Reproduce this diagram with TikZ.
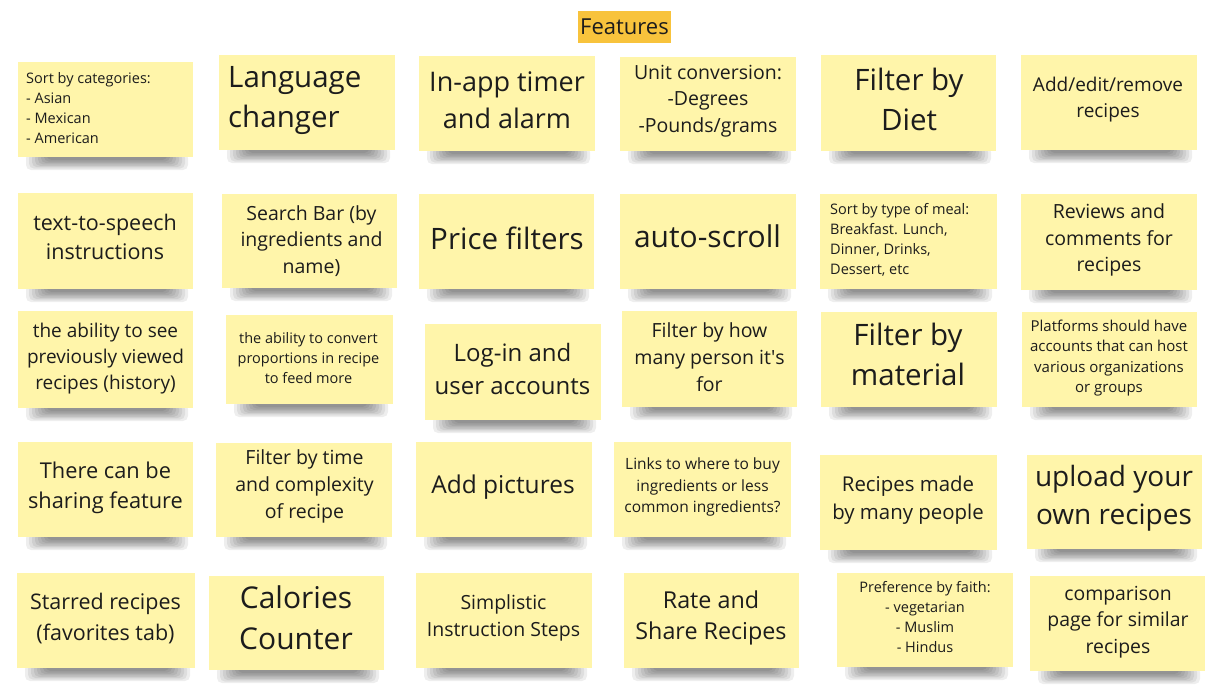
\documentclass[tikz,border=0pt]{standalone}
\usepackage{fontspec}
\setmainfont{Open Sans}
\usetikzlibrary{fit}

\definecolor{stickyyellow}{HTML}{FFF5AA}
\definecolor{titleorange}{HTML}{F8C33C}
\definecolor{inkdark}{HTML}{1C1C1C}

\tikzset{
  stickybox/.style={fill=stickyyellow, draw=none, inner sep=0pt},
  shadowlayer/.style={fill=black, opacity=0.065, rounded corners=5pt},
  txt/.style={text=inkdark, align=center, inner sep=0pt},
  txtleft/.style={text=inkdark, align=left, inner sep=0pt, anchor=west},
  fsz/.style 2 args={font=\fontsize{#1}{#2}\selectfont},
  titlebox/.style={fill=titleorange, text=inkdark, inner sep=0pt,
    minimum width=93pt, minimum height=32pt, font=\fontsize{22}{28}\selectfont},
}

% sticky note: name, left, top, right, bottom (pixel-like units, y downwards)
\newcommand\sticky[5]{%
  \foreach \k in {0,...,7}{%
    \fill[shadowlayer] (#2+8+3*\k, #5-4) rectangle (#4-5-3*\k, #5+13-1.4*\k);}
  \node[stickybox, fit={(#2,#3) (#4,#5)}] (#1) {};
}

\begin{document}
\begin{tikzpicture}[x=1pt, y=-1pt]
\useasboundingbox (0,0) rectangle (1223,689);

\node[titlebox] (title) at (624.5,27) {Features};

% row 1
\sticky{n11}{18}{62}{193}{157}
\sticky{n12}{219}{55}{395}{150}
\sticky{n13}{419}{56}{595}{151}
\sticky{n14}{620}{57}{796}{151}
\sticky{n15}{821}{55}{996}{151}
\sticky{n16}{1021}{55}{1197}{150}

% row 2
\sticky{n21}{18}{193}{193}{289}
\sticky{n22}{222}{194}{397}{288}
\sticky{n23}{419}{194}{594}{289}
\sticky{n24}{620}{194}{796}{289}
\sticky{n25}{820}{194}{997}{289}
\sticky{n26}{1021}{194}{1197}{290}

% row 3
\sticky{n31}{18}{311}{193}{408}
\sticky{n32}{226}{315}{393}{404}
\sticky{n33}{425}{324}{601}{420}
\sticky{n34}{622}{311}{797}{407}
\sticky{n35}{821}{312}{997}{407}
\sticky{n36}{1022}{312}{1197}{407}

% row 4
\sticky{n41}{18}{442}{193}{537}
\sticky{n42}{216}{443}{392}{537}
\sticky{n43}{416}{442}{592}{537}
\sticky{n44}{614}{442}{791}{537}
\sticky{n45}{820}{455}{997}{550}
\sticky{n46}{1027}{455}{1202}{549}

% row 5
\sticky{n51}{17}{573}{195}{668}
\sticky{n52}{209}{576}{384}{670}
\sticky{n53}{416}{573}{592}{668}
\sticky{n54}{624}{573}{799}{668}
\sticky{n55}{837}{573}{1013}{667}
\sticky{n56}{1030}{576}{1205}{671}

% texts, row 1
\node[txtleft, fsz={14.5}{20}] (t11) at (26,108) {Sort by categories:\\- Asian\\- Mexican\\- American};
\node[txtleft, fsz={29.5}{40}] (t12) at (228,101) {Language\\changer};
\node[txt, fsz={27}{36.7}] (t13) at (507,100) {In-app timer\\and alarm};
\node[txt, fsz={19.5}{26.5}] (t14) at (708,101) {Unit conversion:\\-Degrees\\-Pounds/grams};
\node[txt, fsz={29.5}{40}] (t15) at (909,99) {Filter by\\Diet};
\node[txt, fsz={19}{26}] (t16) at (1108,100) {Add/edit/remove\\recipes};

% texts, row 2
\node[txt, fsz={21.5}{29}] (t21) at (105,237) {text-to-speech\\instructions};
\node[txt, fsz={19.5}{26.7}] (t22) at (311.5,241) {Search Bar (by\\ingredients and\\name)};
\node[txt, fsz={29.5}{40}] (t23) at (507,238) {Price filters};
\node[txt, fsz={30}{40}] (t24) at (707.5,236) {auto-scroll};
\node[txtleft, fsz={14.5}{20}] (t25) at (830,240) {Sort by type of meal:\\Breakfast. Lunch,\\Dinner, Drinks,\\Dessert, etc};
\node[txt, fsz={19.5}{26.7}] (t26) at (1109,240) {Reviews and\\comments for\\recipes};

% texts, row 3
\node[txt, fsz={19}{26}] (t31) at (105.5,359) {the ability to see\\previously viewed\\recipes (history)};
\node[txt, fsz={14.5}{19.7}] (t32) at (308.5,358) {the ability to convert\\proportions in recipe\\to feed more};
\node[txt, fsz={24}{33}] (t33) at (512.5,369) {Log-in and\\user accounts};
\node[txt, fsz={19.5}{27}] (t34) at (709.5,357) {Filter by how\\many person it\textquotesingle s\\for};
\node[txt, fsz={29.5}{40}] (t35) at (908,354) {Filter by\\material};
\node[txt, fsz={15}{20.5}] (t36) at (1109,358) {Platforms should have\\accounts that can host\\various organizations\\or groups};

% texts, row 4
\node[txt, fsz={21.8}{29.7}] (t41) at (105.5,488) {There can be\\sharing feature};
\node[txt, fsz={19.5}{27}] (t42) at (304.5,486) {Filter by time\\and complexity\\of recipe};
\node[txt, fsz={24.5}{33}] (t43) at (503,487) {Add pictures};
\node[txt, fsz={15.5}{21.3}] (t44) at (702.5,487) {Links to where to buy\\ingredients or less\\common ingredients?};
\node[txt, fsz={20.4}{27.7}] (t45) at (908,500) {Recipes made\\by many people};
\node[txt, fsz={28}{38.3}] (t46) at (1114,498) {upload your\\own recipes};

% texts, row 5
\node[txt, fsz={21.5}{31}] (t51) at (105.5,619) {Starred recipes\\(favorites tab)};
\node[txt, fsz={30}{41}] (t52) at (296,618) {Calories\\Counter};
\node[txt, fsz={19.5}{26.7}] (t53) at (503.5,618) {Simplistic\\Instruction Steps};
\node[txt, fsz={23.3}{31.7}] (t54) at (711,618) {Rate and\\Share Recipes};
\node[txt, fsz={14.5}{19.7}] (t55) at (925,617) {Preference by faith:\\- vegetarian\\- Muslim\\- Hindus};
\node[txt, fsz={19.4}{26.3}] (t56) at (1118,622) {comparison\\page for similar\\recipes};
\end{tikzpicture}
\end{document}
